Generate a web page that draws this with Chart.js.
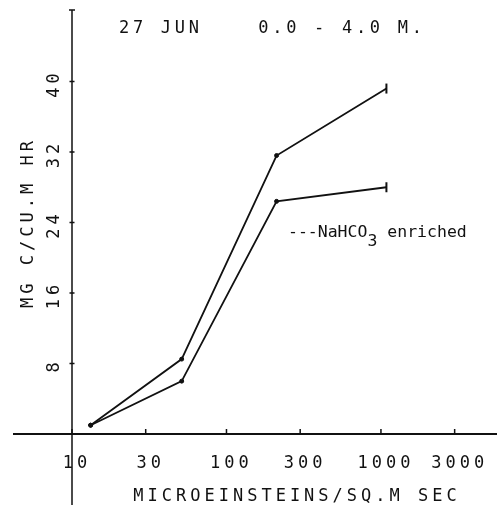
<!DOCTYPE html>
<html>
<head>
<meta charset="utf-8">
<script src="https://cdn.jsdelivr.net/npm/chart.js@4.4.0/dist/chart.umd.min.js"></script>
<style>
  html, body { margin: 0; padding: 0; background: #fff; }
  canvas { display: block; }
</style>
</head>
<body>
<canvas id="chartLight" width="497" height="510"></canvas>
<script>
// light level vs carbon uptake, 27 June, 0-4 m
const lightLevels = [13.2, 51.3, 211, 1085];
const uptakeNatural = [1.0, 8.5, 31.6, 39.2];
const uptakeEnriched = [1.0, 6.0, 26.4, 28.0];
const xTicks = [10, 30, 100, 300, 1000, 3000];
const yTicks = [8, 16, 24, 32, 40];

const INK = '#111';
const plotFont = { family: 'DejaVu Sans Mono', size: 17 };
const SPACING = '4px';

const toPoints = (ys) => lightLevels.map((x, i) => ({ x: x, y: ys[i] }));

// plain dots along the line, a vertical bar on the last reading
const seriesStyle = {
    borderColor: INK,
    borderWidth: 1.8,
    pointStyle: ['circle', 'circle', 'circle', 'line'],
    pointRotation: [0, 0, 0, 90],
    pointRadius: [2, 2, 2, 5],
    pointBorderWidth: [1, 1, 1, 2],
    pointBackgroundColor: INK,
    pointBorderColor: INK,
    tension: 0
};

const plotterAxes = {
    id: 'plotterAxes',
    beforeDraw(chart) {
        chart.ctx.letterSpacing = SPACING;
    },
    afterDraw(chart) {
        const ctx = chart.ctx;
        const xs = chart.scales.x;
        const ys = chart.scales.y;
        const area = chart.chartArea;
        const x0 = xs.getPixelForValue(10);
        const y0 = ys.getPixelForValue(0);

        ctx.save();
        ctx.strokeStyle = INK;
        ctx.lineCap = 'butt';

        // axes cross at (10, 0) and run past each other
        ctx.lineWidth = 1.8;
        ctx.beginPath();
        ctx.moveTo(13, y0);
        ctx.lineTo(chart.width, y0);
        ctx.stroke();

        ctx.lineWidth = 1.5;
        ctx.beginPath();
        ctx.moveTo(x0, area.top - 1);
        ctx.lineTo(x0, y0 + 71);
        ctx.moveTo(x0 - 3, area.top - 1);
        ctx.lineTo(x0 + 3, area.top - 1);
        ctx.stroke();

        // tick marks
        ctx.beginPath();
        xTicks.forEach((v) => {
            const px = xs.getPixelForValue(v);
            ctx.moveTo(px, y0);
            ctx.lineTo(px, y0 - 5);
        });
        yTicks.forEach((v) => {
            const py = ys.getPixelForValue(v);
            ctx.moveTo(x0 - 2.5, py);
            ctx.lineTo(x0 + 2.5, py);
        });
        ctx.stroke();

        ctx.fillStyle = INK;
        ctx.font = plotFont.size + 'px "' + plotFont.family + '"';
        ctx.textBaseline = 'middle';

        // heading
        ctx.letterSpacing = '3.7px';
        ctx.textAlign = 'left';
        ctx.fillText('27 JUN    0.0 - 4.0 M.', area.left + 47, 29);

        // horizontal axis title
        ctx.letterSpacing = SPACING;
        ctx.textAlign = 'center';
        ctx.fillText('MICROEINSTEINS/SQ.M SEC', area.left + 225, 497);

        // note for the enriched run
        ctx.letterSpacing = '0px';
        ctx.textAlign = 'left';
        ctx.textBaseline = 'alphabetic';
        ctx.font = '16.5px "DejaVu Sans Mono"';
        const lx = xs.getPixelForValue(250);
        const ly = ys.getPixelForValue(22.4);
        const head = '---NaHCO';
        ctx.fillText(head, lx, ly);
        const w1 = ctx.measureText(head).width;
        ctx.fillText('3', lx + w1, ly + 9);
        const w2 = ctx.measureText('3').width;
        ctx.fillText(' enriched', lx + w1 + w2, ly);
        ctx.restore();
    }
};

new Chart(document.getElementById('chartLight'), {
    type: 'line',
    data: {
        datasets: [
            Object.assign({ label: 'Natural', data: toPoints(uptakeNatural) }, seriesStyle),
            Object.assign({ label: 'NaHCO3 enriched', data: toPoints(uptakeEnriched) }, seriesStyle)
        ]
    },
    options: {
        responsive: false,
        animation: false,
        layout: {
            autoPadding: false,
            padding: { top: 11, right: 0, left: 0, bottom: 0 }
        },
        plugins: {
            legend: { display: false },
            tooltip: { enabled: false }
        },
        scales: {
            x: {
                type: 'logarithmic',
                bounds: 'data',
                min: 10,
                max: 5640,
                afterBuildTicks: (s) => { s.ticks = xTicks.map((v) => ({ value: v })); },
                afterFit: (s) => {
                    s.height = 76;
                    s.paddingLeft = 0;
                    s.paddingRight = 0;
                },
                grid: { display: false, drawTicks: false },
                border: { display: false },
                ticks: {
                    autoSkip: false,
                    maxRotation: 0,
                    padding: 19,
                    labelOffset: 5,
                    color: INK,
                    font: plotFont,
                    callback: (v) => String(v)
                }
            },
            y: {
                bounds: 'data',
                min: 0,
                max: 48,
                afterBuildTicks: (s) => { s.ticks = yTicks.map((v) => ({ value: v })); },
                afterFit: (s) => {
                    s.width = 72;
                    s.paddingTop = 0;
                    s.paddingBottom = 0;
                },
                grid: { display: false, drawTicks: false },
                border: { display: false },
                ticks: {
                    minRotation: 90,
                    maxRotation: 90,
                    crossAlign: 'center',
                    padding: 7,
                    labelOffset: 2,
                    color: INK,
                    font: plotFont
                },
                title: {
                    display: true,
                    text: 'MG C/CU.M HR',
                    color: INK,
                    font: plotFont,
                    padding: { top: 18, bottom: 0 }
                }
            }
        }
    },
    plugins: [plotterAxes]
});
</script>
</body>
</html>
